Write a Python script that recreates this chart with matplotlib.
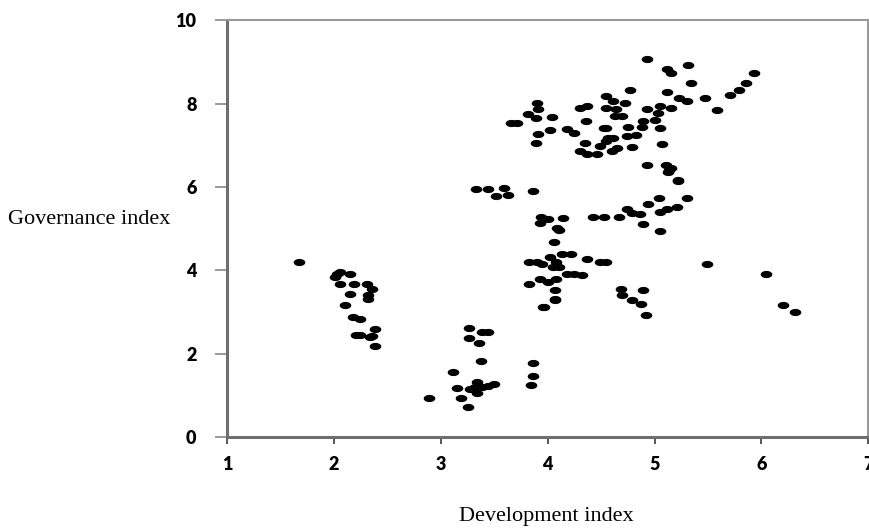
import matplotlib
matplotlib.use("Agg")
import matplotlib.pyplot as plt
import numpy as np

# development index (x) and governance index (y)
dev = [1.67, 2.03, 2.06, 2.01, 2.15, 2.06, 2.19, 2.31, 2.36, 2.15, 2.32, 2.32, 2.10, 2.18, 2.24,
       2.21, 2.24, 2.38, 2.34, 2.38, 2.36,
       3.26, 3.26, 3.39, 3.44, 3.36, 3.38, 3.11, 3.15, 3.27, 3.32, 3.34, 3.39, 3.44, 3.50, 3.34,
       3.19, 3.25, 2.89, 3.86, 3.86, 3.84, 3.97, 4.07,
       3.33, 3.44, 3.52, 3.59, 3.63, 3.86, 3.94, 4.00, 3.93, 4.14, 4.09, 4.11, 4.06, 4.42, 4.53,
       3.83, 3.90, 3.95, 4.02, 4.08, 4.13, 4.22, 4.11, 4.05, 4.37, 4.49, 4.55, 3.83, 3.93, 4.00,
       4.08, 4.18, 4.25, 4.32, 4.07, 4.07, 3.96,
       4.67, 4.74, 4.79, 4.86, 4.89, 4.94, 5.04, 5.05, 5.12, 5.21, 5.30, 5.05, 5.22, 5.49, 6.04,
       4.69, 4.70, 4.89, 4.79, 4.87, 4.92, 6.20, 6.31,
       3.71, 3.66, 3.90, 3.91, 3.82, 3.89, 4.04, 3.91, 4.02, 3.89, 4.18, 4.25, 4.30, 4.37, 4.36,
       4.35, 4.30, 4.37, 4.46, 4.49, 4.55, 4.55, 4.55, 4.56,
       4.93, 5.12, 5.15, 5.31, 5.34, 5.93, 5.86, 5.79, 5.71, 5.58, 5.47, 5.30, 5.23, 5.12, 5.15,
       5.05, 5.03, 4.93, 4.77, 4.61, 4.72, 4.64, 4.70, 4.63, 4.89, 4.88, 5.05, 4.53, 4.75, 4.74,
       4.61, 4.55, 4.65, 4.79, 5.07, 4.93, 5.11, 5.14, 5.22, 5.15, 5.13, 4.60, 4.83, 5.00]
gov = [4.21, 3.92, 3.95, 3.83, 3.90, 3.68, 3.66, 3.68, 3.56, 3.42, 3.40, 3.30, 3.16, 2.89, 2.82,
       2.44, 2.44, 2.58, 2.39, 2.18, 2.42,
       2.61, 2.37, 2.51, 2.51, 2.25, 1.82, 1.56, 1.17, 1.15, 1.20, 1.32, 1.20, 1.22, 1.27, 1.05,
       0.93, 0.72, 0.93, 1.77, 1.46, 1.24, 3.11, 3.28,
       5.96, 5.96, 5.79, 5.98, 5.81, 5.91, 5.29, 5.24, 5.14, 5.26, 5.02, 4.97, 4.69, 5.29, 5.29,
       4.21, 4.21, 4.16, 4.31, 4.21, 4.40, 4.38, 4.07, 4.09, 4.26, 4.19, 4.19, 3.68, 3.80, 3.71,
       3.80, 3.92, 3.92, 3.88, 3.52, 3.30, 3.11,
       5.29, 5.48, 5.38, 5.36, 5.12, 5.60, 5.74, 5.41, 5.48, 5.53, 5.74, 4.95, 6.15, 4.16, 3.92,
       3.56, 3.40, 3.52, 3.28, 3.18, 2.92, 3.16, 2.99,
       7.54, 7.54, 8.01, 7.87, 7.75, 7.66, 7.68, 7.27, 7.37, 7.06, 7.39, 7.30, 7.89, 7.94, 7.58,
       7.06, 6.87, 6.79, 6.79, 6.99, 8.18, 7.89, 7.42, 7.18,
       9.07, 8.83, 8.73, 8.92, 8.49, 8.73, 8.49, 8.33, 8.21, 7.85, 8.13, 8.06, 8.13, 8.28, 7.89,
       7.94, 7.78, 7.87, 8.33, 8.06, 8.01, 7.87, 7.70, 7.70, 7.58, 7.44, 7.42, 7.42, 7.44, 7.22,
       7.18, 7.11, 6.94, 6.96, 7.03, 6.53, 6.53, 6.41, 6.17, 6.45, 6.35, 6.85, 7.25, 7.60]

x_ticks = [1, 2, 3, 4, 5, 6, 7]
y_ticks = [0, 2, 4, 6, 8, 10]

# flat oval marker like the original
t = np.linspace(0, 2 * np.pi, 40)
oval = np.column_stack([np.cos(t), 0.62 * np.sin(t)])

fig = plt.figure(figsize=(8.7, 5.31), dpi=100)
ax = fig.add_axes([0.261, 0.177, 0.737, 0.785])

ax.scatter(dev, gov, marker=oval, s=70, c='black', linewidths=0)

ax.set_xlim(1, 7)
ax.set_ylim(0, 10)
ax.set_xticks(x_ticks)
ax.set_yticks(y_ticks)

for side in ['left', 'bottom']:
    ax.spines[side].set_color('#6e6e6e')
    ax.spines[side].set_linewidth(2.2)
for side in ['top', 'right']:
    ax.spines[side].set_color('#999999')
    ax.spines[side].set_linewidth(1.5)

ax.tick_params(axis='y', direction='out', length=9, width=1.2, color='#888888', pad=13)
ax.tick_params(axis='x', direction='out', length=5, width=1.4, color='#555555', pad=9)
for lab in ax.get_xticklabels() + ax.get_yticklabels():
    lab.set_fontfamily('Lato')
    lab.set_fontweight('heavy')
    lab.set_fontsize(13)

fig.text(8 / 870, 1 - 219 / 531, 'Governance index', family='Liberation Serif',
         fontsize=16, va='center', ha='left')
fig.text(546 / 870, 1 - 516 / 531, 'Development index', family='Liberation Serif',
         fontsize=16, va='center', ha='center')

fig.savefig('out.png', dpi=100)
